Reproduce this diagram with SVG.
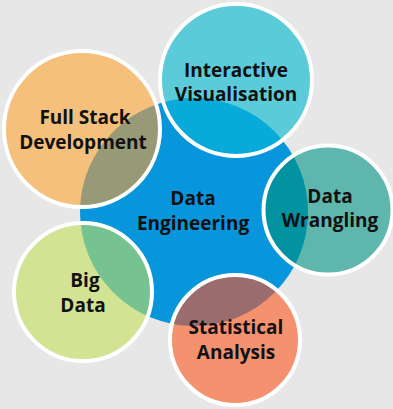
<svg xmlns="http://www.w3.org/2000/svg" width="393" height="409" viewBox="0 0 393 409">
  <style>
    .ring { fill: none; stroke: #ffffff; stroke-width: 4; }
    .lbl { font-family: "Open Sans", "DejaVu Sans", sans-serif; font-weight: bold; font-size: 19px; fill: #111111; text-anchor: middle; }
  </style>
  <defs>
    <clipPath id="coreClip">
      <circle cx="194" cy="212" r="114"/>
    </clipPath>
  </defs>
  <rect x="0" y="0" width="393" height="409" fill="#e7e7e7"/>

  <g id="node-data-engineering">
    <circle cx="194" cy="212" r="114" fill="#0795db"/>
  </g>

  <g id="node-interactive-visualisation">
    <circle cx="236" cy="80" r="76" fill="#5bcbd9"/>
    <circle cx="236" cy="80" r="76" fill="#07aad8" clip-path="url(#coreClip)"/>
    <circle cx="236" cy="80" r="76" class="ring"/>
    <text class="lbl" x="236" y="77">Interactive</text>
    <text class="lbl" x="236" y="100.5">Visualisation</text>
  </g>

  <g id="node-full-stack-development">
    <circle cx="82" cy="129" r="78" fill="#f4c07b"/>
    <circle cx="82" cy="129" r="78" fill="#989a77" clip-path="url(#coreClip)"/>
    <circle cx="82" cy="129" r="78" class="ring"/>
    <text class="lbl" x="85" y="124">Full Stack</text>
    <text class="lbl" x="83" y="149">Development</text>
  </g>

  <g id="node-data-wrangling">
    <circle cx="328" cy="210" r="64.5" fill="#5eb6ac"/>
    <circle cx="328" cy="210" r="64.5" fill="#03929f" clip-path="url(#coreClip)"/>
    <circle cx="328" cy="210" r="64.5" class="ring"/>
    <text class="lbl" x="330" y="203">Data</text>
    <text class="lbl" x="330" y="227">Wrangling</text>
  </g>

  <g id="node-big-data">
    <circle cx="83" cy="292" r="69" fill="#d2e393"/>
    <circle cx="83" cy="292" r="69" fill="#76c290" clip-path="url(#coreClip)"/>
    <circle cx="83" cy="292" r="69" class="ring"/>
    <text class="lbl" x="85" y="287">Big</text>
    <text class="lbl" x="83" y="312">Data</text>
  </g>

  <g id="node-statistical-analysis">
    <circle cx="235" cy="340" r="65" fill="#f4916f"/>
    <circle cx="235" cy="340" r="65" fill="#9b6c6d" clip-path="url(#coreClip)"/>
    <circle cx="235" cy="340" r="65" class="ring"/>
    <text class="lbl" x="236" y="334">Statistical</text>
    <text class="lbl" x="236" y="359">Analysis</text>
  </g>

  <g id="label-data-engineering">
    <text class="lbl" x="193" y="205">Data</text>
    <text class="lbl" x="193" y="230">Engineering</text>
  </g>
</svg>
